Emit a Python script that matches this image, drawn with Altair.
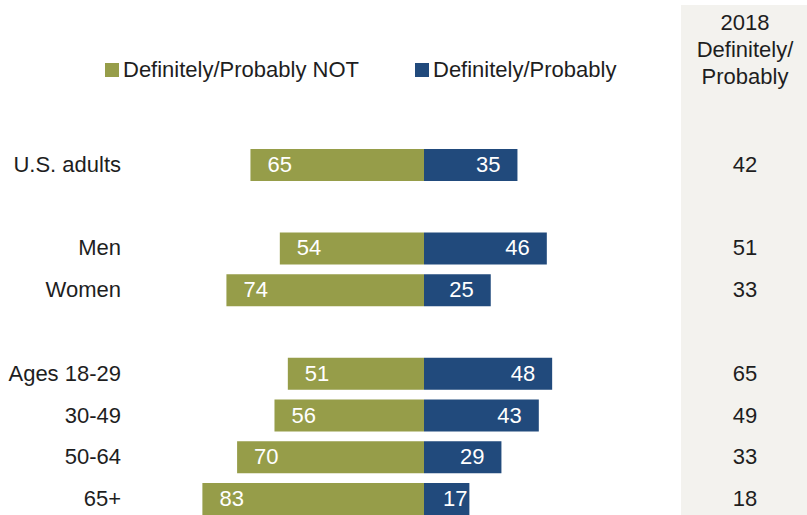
import altair as alt
import pandas as pd

groups = ["U.S. adults", "Men", "Women", "Ages 18-29", "30-49", "50-64", "65+"]
not_vals = [65, 54, 74, 51, 56, 70, 83]
yes_vals = [35, 46, 25, 48, 43, 29, 17]
yes_2018 = [42, 51, 33, 65, 49, 33, 18]
categories = ["Definitely/Probably NOT", "Definitely/Probably"]
row_order = ["U.S. adults", " ", "Men", "Women", "  ", "Ages 18-29", "30-49", "50-64", "65+"]
header_text = ["2018", "Definitely/", "Probably"]

GREEN = "#969D49"
BLUE = "#214A7C"
PANEL = "#F3F2EE"
TEXT = "#1E1E1E"
FONT = "Liberation Sans"
FS = 22

rows = []
for g, n, y in zip(groups, not_vals, yes_vals):
    rows.append({"group": g, "category": categories[0], "value": n, "start": -n, "end": 0})
    rows.append({"group": g, "category": categories[1], "value": y, "start": 0, "end": y})
bars_df = pd.DataFrame(rows)
side_df = pd.DataFrame({"group": groups, "y2018": yes_2018})

xsc = alt.Scale(domain=[-100, 100], range=[157, 691])
ysc = alt.Scale(domain=row_order, range=[144, 520], paddingInner=0.234, paddingOuter=0.117)

X = lambda f: alt.X(f, scale=xsc, axis=None)
Y = alt.Y("group:N", scale=ysc, axis=None)

panel = alt.Chart(pd.DataFrame({"a": [0]})).mark_rect(color=PANEL).encode(
    x=alt.value(681), x2=alt.value(807), y=alt.value(5), y2=alt.value(515)
)

header = alt.Chart(pd.DataFrame({"t": [header_text]})).mark_text(
    font=FONT, fontSize=FS, color=TEXT, align="center", baseline="alphabetic", lineHeight=27
).encode(x=alt.value(745), y=alt.value(30), text="t")

bars = alt.Chart(bars_df).mark_bar().encode(
    x=X("start:Q"),
    x2="end:Q",
    y=Y,
    color=alt.Color(
        "category:N",
        scale=alt.Scale(domain=categories, range=[GREEN, BLUE]),
        legend=alt.Legend(
            title=None,
            orient="none",
            legendX=101,
            legendY=59,
            direction="horizontal",
            symbolType="square",
            symbolSize=196,
            symbolStrokeWidth=0,
            labelFont=FONT,
            labelFontSize=FS,
            labelColor=TEXT,
            labelOffset=0,
            labelLimit=500,
            columnPadding=52,
            padding=0,
        ),
    ),
)

not_labels = alt.Chart(bars_df).transform_filter(
    alt.datum.category == categories[0]
).mark_text(align="left", baseline="middle", dx=17, color="white", font=FONT, fontSize=FS).encode(
    x=X("start:Q"), y=Y, text="value:Q"
)

yes_labels = alt.Chart(bars_df).transform_filter(
    (alt.datum.category == categories[1]) & (alt.datum.value >= 20)
).mark_text(align="right", baseline="middle", dx=-17, color="white", font=FONT, fontSize=FS).encode(
    x=X("end:Q"), y=Y, text="value:Q"
)

yes_labels_small = alt.Chart(bars_df).transform_filter(
    (alt.datum.category == categories[1]) & (alt.datum.value < 20)
).mark_text(align="right", baseline="middle", dx=-2, color="white", font=FONT, fontSize=FS).encode(
    x=X("end:Q"), y=Y, text="value:Q"
)

row_labels = alt.Chart(side_df).mark_text(
    align="right", baseline="middle", color=TEXT, font=FONT, fontSize=FS
).encode(x=alt.value(121), y=Y, text="group:N")

y2018 = alt.Chart(side_df).mark_text(
    align="center", baseline="middle", color=TEXT, font=FONT, fontSize=FS
).encode(x=alt.value(745), y=Y, text="y2018:Q")

chart = alt.layer(
    panel, header, bars, not_labels, yes_labels, yes_labels_small, row_labels, y2018
).properties(
    width=807, height=515, autosize=alt.AutoSizeParams(type="none"), padding=0, background="white"
).configure_view(stroke=None)

chart.save("out.html", embed_options={"renderer": "svg", "actions": False})
